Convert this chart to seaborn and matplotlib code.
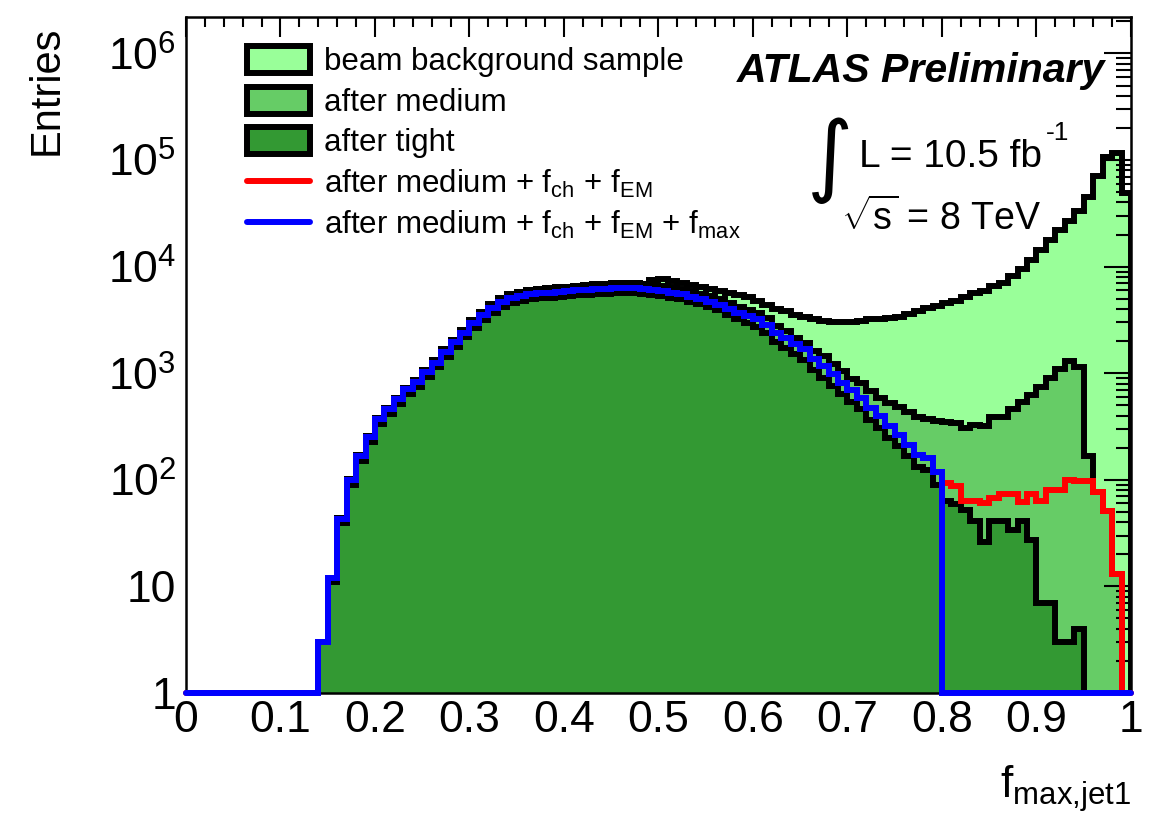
import numpy as np
import pandas as pd
import matplotlib
matplotlib.use("Agg")
import matplotlib.pyplot as plt
import seaborn as sns
from matplotlib.patches import Patch
from matplotlib.lines import Line2D
from matplotlib.ticker import (FixedLocator, FixedFormatter, LogLocator,
                               NullFormatter, MultipleLocator)

# ---------------------------------------------------------------- data
N_BINS = 100
X_RANGE = (0.0, 1.0)
Y_MIN, Y_MAX = 1.0, 2.2e6

# entries per bin (bin i covers [i/100, (i+1)/100))
beam_background = [0] * 14 + [
    3, 12, 44, 102, 170, 257, 380, 470, 585, 730,
    860, 1075, 1320, 1670, 2070, 2560, 3150, 3790, 4450, 5050,
    5500, 5800, 6050, 6200, 6300, 6450, 6500, 6650, 6680, 6820,
    6840, 6980, 7000, 7000, 6900,
    7500, 7600, 7300, 7100, 6800, 6500, 6200, 5950, 5700, 5450,
    5150, 4800, 4400, 4000, 3800, 3550, 3350, 3200, 3100, 3030,
    3030, 3050, 3100, 3200, 3250, 3300, 3400, 3600, 3850, 4100,
    4300, 4600, 4800, 5200, 5700, 5950, 6600, 7100, 8180, 9580,
    11560, 14350, 17660, 22130, 26850, 33350, 45100, 71100, 107900, 115800,
    49500]

after_medium = [0] * 14 + [
    3, 12, 44, 102, 170, 257, 380, 470, 585, 730,
    860, 1075, 1320, 1670, 2070, 2560, 3150, 3790, 4450, 5050,
    5500, 5800, 6050, 6200, 6300, 6450, 6500, 6650, 6680, 6820,
    6840, 6980, 7000, 7000, 6900, 6780, 6640, 6400, 6200, 5860,
    5580, 5280, 4960, 4520, 4220, 3930, 3680, 3280, 2800, 2500,
    2150, 1930, 1616, 1450, 1210, 1048, 875, 815, 680, 589,
    530, 480, 430, 385, 375, 355, 345, 340, 305, 325,
    322, 385, 390, 465, 540, 620, 740, 900, 1100, 1300,
    1150, 167, 77, 51, 13, 0]

after_tight = [0] * 14 + [
    3, 11, 39, 90, 150, 226, 333, 411, 511, 634,
    744, 927, 1134, 1431, 1764, 2169, 2655, 3177, 3708, 4185,
    4536, 4770, 4950, 5058, 5130, 5238, 5265, 5391, 5400, 5508,
    5517, 5625, 5634, 5625, 5544, 5436, 5319, 5121, 4950, 4671,
    4437, 4194, 3900, 3500, 3230, 2970, 2720, 2380, 1950, 1720,
    1500, 1320, 1070, 910, 760, 635, 540, 458, 368, 308,
    248, 207, 166, 132, 124, 90,
    63, 59, 52, 41, 26, 41, 41, 34, 41, 27, 7, 7, 3, 3, 4] + [0] * 5

after_medium_fch_fem_fmax = [0] * 14 + [
    3, 12, 43, 100, 167, 251, 370, 457, 568, 705,
    827, 1030, 1260, 1590, 1960, 2410, 2950, 3530, 4120, 4650,
    5040, 5300, 5500, 5620, 5700, 5820, 5850, 5990, 6000, 6120,
    6130, 6250, 6260, 6250, 6160, 6040, 5910, 5690, 5500, 5190,
    4930, 4660, 4370, 3970, 3700, 3440, 3200, 2820, 2400, 2160,
    1900, 1675, 1368, 1167, 975, 815, 695, 589, 474, 396,
    319, 266, 214, 170, 161, 119] + [0] * 20

# identical to the f_max curve below 0.8 (hidden under it), then its own tail
after_medium_fch_fem = after_medium_fch_fem_fmax[:80] + [
    94, 87, 63, 63, 60, 68, 73, 73, 62, 73,
    63, 81, 81, 99, 97, 97, 77, 51, 13, 0]

x_tick_values = [0, 0.1, 0.2, 0.3, 0.4, 0.5, 0.6, 0.7, 0.8, 0.9, 1.0]
x_tick_labels = ["0", "0.1", "0.2", "0.3", "0.4", "0.5", "0.6", "0.7", "0.8", "0.9", "1"]
y_tick_values = [1, 10, 1e2, 1e3, 1e4, 1e5, 1e6]
y_tick_labels = ["1", "10", r"$10^{2}$", r"$10^{3}$", r"$10^{4}$", r"$10^{5}$", r"$10^{6}$"]

legend_labels = ["beam background sample",
                 "after medium",
                 "after tight",
                 r"after medium + f$_{\rm ch}$ + f$_{\rm EM}$",
                 r"after medium + f$_{\rm ch}$ + f$_{\rm EM}$ + f$_{\rm max}$"]

LIGHT, MID, DARK = "#99FF99", "#66CC66", "#339933"

# ---------------------------------------------------------------- style
sns.set_theme(style="white")
plt.rcParams.update({
    "font.family": ["Liberation Sans", "DejaVu Sans"],
    "mathtext.fontset": "custom",
    "mathtext.rm": "Liberation Sans",
    "mathtext.it": "Liberation Sans:italic",
    "mathtext.bf": "Liberation Sans:bold",
    "axes.edgecolor": "black",
    "text.color": "black",
    "axes.labelcolor": "black",
    "xtick.color": "black",
    "ytick.color": "black",
})

LW = 4.3

edges = np.linspace(X_RANGE[0], X_RANGE[1], N_BINS + 1)
centers = 0.5 * (edges[1:] + edges[:-1])
df = pd.DataFrame({
    "fmax": centers,
    "beam": beam_background,
    "medium": after_medium,
    "tight": after_tight,
    "red": after_medium_fch_fem,
    "blue": after_medium_fch_fem_fmax,
})

fig = plt.figure(figsize=(11.51, 8.17), dpi=100)
ax = fig.add_axes([0.1616, 0.1518, 0.821, 0.8274])

for col, color in [("beam", LIGHT), ("medium", MID), ("tight", DARK)]:
    sns.histplot(data=df, x="fmax", weights=col, bins=N_BINS, binrange=X_RANGE,
                 element="step", fill=True, color=color, alpha=1,
                 edgecolor="black", linewidth=LW, joinstyle="miter",
                 zorder=1, ax=ax)

for col, color, z in [("red", "red", 2.8), ("blue", "blue", 3.0)]:
    n_before = len(ax.lines)
    sns.histplot(data=df, x="fmax", weights=col, bins=N_BINS, binrange=X_RANGE,
                 element="step", fill=False, color=color, linewidth=LW, ax=ax)
    line = ax.lines[n_before]
    y = np.asarray(line.get_ydata(), dtype=float)
    # ROOT draws empty bins on the lower frame of a log axis
    line.set_ydata(np.where(y > 0, y, Y_MIN))
    line.set_clip_on(False)
    line.set_zorder(z)
    line.set_solid_joinstyle("miter")

ax.set_yscale("log")
ax.set_xlim(*X_RANGE)
ax.set_ylim(Y_MIN, Y_MAX)
ax.set_axisbelow(False)

for s in ax.spines.values():
    s.set_linewidth(1.8)
    s.set_color("black")
    s.set_zorder(2.5)

ax.xaxis.set_major_locator(FixedLocator(x_tick_values))
ax.xaxis.set_major_formatter(FixedFormatter(x_tick_labels))
ax.xaxis.set_minor_locator(MultipleLocator(0.02))
ax.yaxis.set_major_locator(FixedLocator(y_tick_values))
ax.yaxis.set_major_formatter(FixedFormatter(y_tick_labels))
ax.yaxis.set_minor_locator(LogLocator(base=10, subs=np.arange(2, 10)))
ax.yaxis.set_minor_formatter(NullFormatter())

ax.tick_params(axis="both", which="both", direction="in", top=True, right=True,
               width=1.5)
ax.tick_params(axis="x", which="major", length=14.4, labelsize=32, pad=5)
ax.tick_params(axis="x", which="minor", length=7.2)
ax.tick_params(axis="y", which="major", length=19.4, labelsize=32, pad=7)
ax.tick_params(axis="y", which="minor", length=10.8)

ax.set_xlabel(r"f$_{\rm max{,}jet1}$", fontsize=32, loc="right")
ax.xaxis.set_label_coords(1.0, -0.104)
ax.set_ylabel("Entries", fontsize=30, loc="top")
ax.yaxis.set_label_coords(-0.126, 0.987)

handles = [
    Patch(facecolor=LIGHT, edgecolor="black", linewidth=LW, joinstyle="round"),
    Patch(facecolor=MID, edgecolor="black", linewidth=LW, joinstyle="round"),
    Patch(facecolor=DARK, edgecolor="black", linewidth=LW, joinstyle="round"),
    Line2D([], [], color="red", linewidth=LW),
    Line2D([], [], color="blue", linewidth=LW),
]
ax.legend(handles, legend_labels, loc="upper left", bbox_to_anchor=(0.0646, 0.957),
          frameon=False, fontsize=22.5, handlelength=2.0, handleheight=0.95,
          handletextpad=0.45, labelspacing=0.3, borderpad=0, borderaxespad=0)

ax.text(0.9725, 0.904, "ATLAS Preliminary", transform=ax.transAxes,
        ha="right", va="baseline", fontsize=29.5, fontweight="bold",
        fontstyle="italic")
ax.text(0.6815, 0.788, "\u222b", transform=ax.transAxes, ha="center",
        va="center", fontsize=64, family=["DejaVu Sans"])
lum = ax.text(0.712, 0.778, "L = 10.5 fb", transform=ax.transAxes,
              ha="left", va="baseline", fontsize=28)
ax.annotate("-1", xy=(1.0, 1.0), xycoords=lum, xytext=(3, -4),
            textcoords="offset points", ha="left", va="bottom", fontsize=19)
ax.text(0.6935, 0.685, r"$\sqrt{\rm s}$ = 8 TeV", transform=ax.transAxes,
        ha="left", va="baseline", fontsize=27)

fig.savefig("out.png", dpi=100)
